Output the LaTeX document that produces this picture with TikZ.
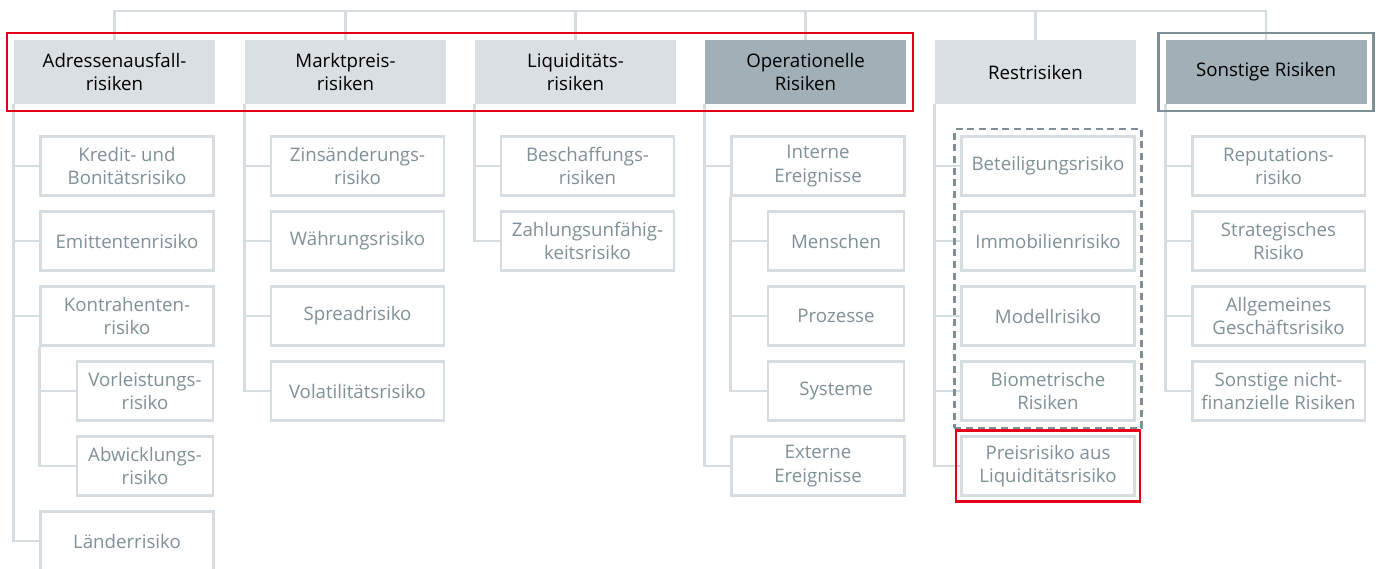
\documentclass[tikz,border=0pt]{standalone}
\usepackage{fontspec}
\setmainfont{Open Sans}
\usetikzlibrary{positioning,fit}
\definecolor{linegray}{HTML}{D5DDE1}
\definecolor{boxlight}{HTML}{D9DFE2}
\definecolor{boxdark}{HTML}{A1AFB6}
\definecolor{subtext}{HTML}{7F9098}
\definecolor{framegray}{HTML}{7F8F97}
\definecolor{markred}{HTML}{E2001A}

\begin{document}
\begin{tikzpicture}[x=0.75pt,y=-0.75pt,
    every node/.style={font=\fontsize{14}{17.5}\selectfont},
    top/.style={fill=boxlight,text=black,align=center,inner sep=0pt,minimum width=150.75pt,minimum height=48pt},
    topdark/.style={top,fill=boxdark},
    sub/.style={draw=linegray,line width=1.875pt,fill=white,text=subtext,align=center,inner sep=0pt,minimum width=129.4pt,minimum height=44.6pt},
    subsub/.style={sub,minimum width=102pt},
    tree/.style={draw=linegray,line width=1.875pt},
    redframe/.style={draw=markred,line width=1.9pt},
    grayframe/.style={draw=framegray,line width=1.9pt},
    dashframe/.style={draw=framegray,line width=1.9pt,dash pattern=on 5.25pt off 3.5pt}]
    \useasboundingbox (0,0) rectangle (1380,568);

    \node[top] (adr) at (114.5,72) {Adressenausfall-\\risiken};
    \node[top] (markt) at (345.5,72) {Marktpreis-\\risiken};
    \node[top] (liq) at (575.5,72) {Liquiditäts-\\risiken};
    \node[topdark] (oper) at (805.5,72) {Operationelle\\Risiken};
    \node[top] (rest) at (1035.5,72) {Restrisiken};
    \node[topdark] (sonst) at (1266,72) {Sonstige Risiken};

    \foreach \n/\x/\y/\t in {kredit/127/166/{Kredit- und\\Bonitätsrisiko}, emit/127/241/Emittentenrisiko,
        kontra/127/316/{Kontrahenten-\\risiko}, laender/127/541/Länderrisiko,
        zins/357.5/166/{Zinsänderungs-\\risiko}, waehr/357.5/241/Währungsrisiko,
        spread/357.5/316/Spreadrisiko, vola/357.5/391/Volatilitätsrisiko,
        beschaff/587.5/166/{Beschaffungs-\\risiken}, zahlung/587.5/241/{Zahlungsunfähig-\\keitsrisiko},
        intern/818/166/{Interne\\Ereignisse}, extern/818/466/{Externe\\Ereignisse},
        beteil/1048/166/Beteiligungsrisiko, immo/1048/241/Immobilienrisiko,
        modell/1048/316/Modellrisiko, biom/1048/391/{Biometrische\\Risiken},
        preis/1048/466/{Preisrisiko aus\\Liquiditätsrisiko},
        reput/1278.5/166/{Reputations-\\risiko}, strat/1278.5/241/{Strategisches\\Risiko},
        allg/1278.5/316/{Allgemeines\\Geschäftsrisiko}, nichtfin/1278.5/391/{Sonstige nicht-\\finanzielle Risiken}}
      \node[sub] (\n) at (\x,\y) {\t};
    \foreach \n/\x/\y/\t in {vorl/145/391/{Vorleistungs-\\risiko}, abw/145/466/{Abwicklungs-\\risiko},
        menschen/836/241/Menschen, prozesse/836/316/Prozesse, systeme/836/391/Systeme}
      \node[subsub] (\n) at (\x,\y) {\t};

    \coordinate (bar) at (0,11);
    \draw[tree] (adr.north) -- (adr.north |- bar) -- (sonst.north |- bar) -- (sonst.north);
    \foreach \n in {markt,liq,oper,rest}
      \draw[tree] (\n.north) -- (\n.north |- bar);
    \foreach \p/\c in {adr/kredit, adr/emit, adr/kontra, adr/laender, kontra/vorl, kontra/abw,
        markt/zins, markt/waehr, markt/spread, markt/vola, liq/beschaff, liq/zahlung,
        oper/intern, oper/extern, intern/menschen, intern/prozesse, intern/systeme,
        rest/beteil, rest/immo, rest/modell, rest/biom, rest/preis,
        sonst/reput, sonst/strat, sonst/allg, sonst/nichtfin}
      \draw[tree] (\p.south west) |- (\c.west);

    \node[redframe, fit=(adr)(oper), inner sep=5pt] (groupframe) {};
    \node[grayframe, fit=(sonst), inner sep=5pt] (sonstframe) {};
    \node[dashframe, fit=(beteil)(biom), inner sep=4.5pt] (restframe) {};
    \node[redframe, fit=(preis), inner sep=3.4pt] (preisframe) {};
  \end{tikzpicture}
\end{document}
